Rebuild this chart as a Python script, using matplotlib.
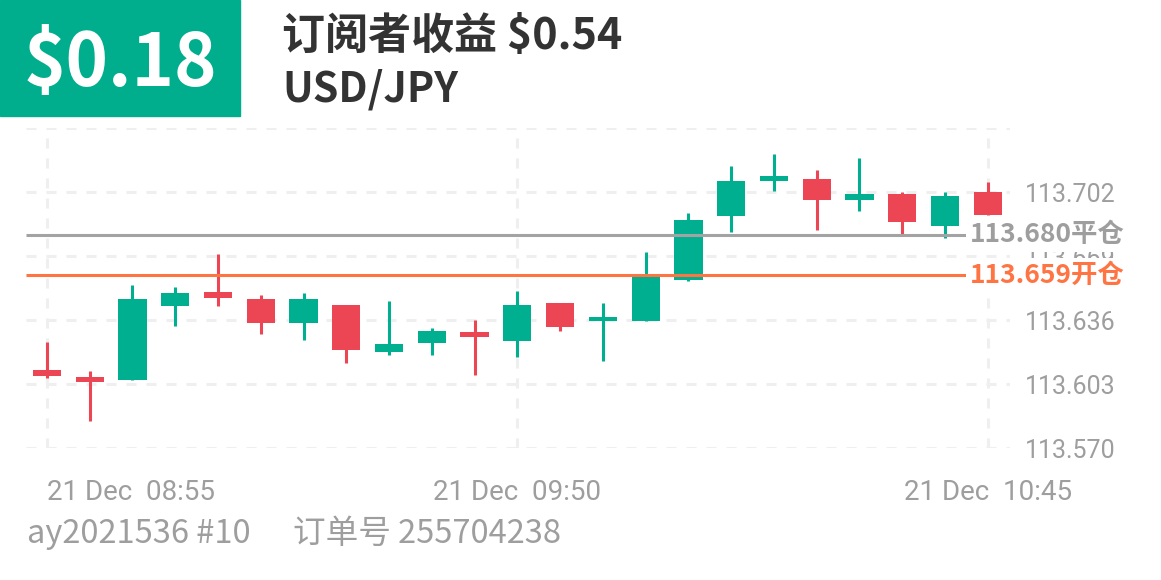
import matplotlib
matplotlib.use("Agg")
import matplotlib.pyplot as plt
import matplotlib.transforms as mtransforms
from matplotlib.patches import Rectangle

plt.rcParams['font.family'] = ['Noto Sans CJK SC', 'DejaVu Sans']
plt.rcParams['lines.scale_dashes'] = False

# 5-minute candles, 21 Dec
times = ["%02d:%02d" % divmod(8 * 60 + 55 + 5 * i, 60) for i in range(23)]
opens = [113.6104, 113.6064, 113.6052, 113.6434, 113.6506, 113.6466, 113.6345, 113.6437,
         113.6193, 113.6241, 113.6296, 113.6253, 113.6446, 113.6353, 113.6353, 113.6564,
         113.6896, 113.7078, 113.7089, 113.6977, 113.7010, 113.6846, 113.7018]
closes = [113.6069, 113.6042, 113.6466, 113.6497, 113.6473, 113.6345, 113.6466, 113.6203,
          113.6234, 113.6305, 113.6272, 113.6435, 113.6322, 113.6373, 113.6594, 113.6877,
          113.7078, 113.7100, 113.6977, 113.7010, 113.6867, 113.6999, 113.6899]
highs = [113.6248, 113.6099, 113.6540, 113.6530, 113.6702, 113.6490, 113.6499, 113.6437,
         113.6460, 113.6319, 113.6358, 113.6508, 113.6446, 113.6448, 113.6709, 113.6912,
         113.7156, 113.7214, 113.7135, 113.7193, 113.7020, 113.7022, 113.7072]
lows = [113.6062, 113.5837, 113.6052, 113.6327, 113.6430, 113.6289, 113.6258, 113.6138,
        113.6177, 113.6177, 113.6078, 113.6167, 113.6301, 113.6150, 113.6353, 113.6559,
        113.6812, 113.7023, 113.6822, 113.6924, 113.6805, 113.6783, 113.6899]

y_ticks = [113.570, 113.603, 113.636, 113.669, 113.702, 113.735]
y_labels = ["113.570", "113.603", "113.636", "113.669", "113.702", ""]
x_tick_idx = [0, 11, 22]
x_labels = ["21 Dec  " + times[i] for i in x_tick_idx]

close_price = 113.680
open_price = 113.659
profit = "$0.18"
subscriber = "订阅者收益 $0.54"
symbol = "USD/JPY"
account = "ay2021536 #10"
order = "订单号 255704238"

GREEN = "#00AF90"
RED = "#EC4655"
GREY = "#9E9E9E"
ORANGE = "#FF7443"
GRID = "#EFEFEF"

W, H = 1161, 580
fig = plt.figure(figsize=(W / 100, H / 100), dpi=100)
ax = fig.add_axes([26 / W, (H - 448) / H, 984 / W, 320 / H])

# grid
for v in y_ticks:
    ax.axhline(v, color=GRID, lw=2.2, dashes=(7.2, 7.2), zorder=0)
for i in x_tick_idx:
    ax.axvline(i, color=GRID, lw=2.2, dashes=(7.2, 7.2), zorder=0)

# candles
for i in range(len(opens)):
    o, c, h, l = opens[i], closes[i], highs[i], lows[i]
    col = GREEN if c >= o else RED
    ax.vlines(i, l, h, color=col, lw=2.2, zorder=2)
    ax.bar(i, abs(c - o), bottom=min(o, c), width=0.66, color=col, zorder=2)

ax.set_xlim(-0.49, 22.52)
ax.set_ylim(113.570, 113.735)

# position lines
line_end = 21.53
ax.hlines(close_price, -0.49, line_end, color="#A3A3A3", lw=2.2, zorder=3)
ax.hlines(open_price, -0.49, line_end, color=ORANGE, lw=2.2, zorder=3)

for s in ax.spines.values():
    s.set_visible(False)

ax.yaxis.tick_right()
ax.set_yticks(y_ticks, y_labels)
ax.tick_params(axis="y", length=0, pad=10.8, labelsize=18, labelcolor=GREY)
for t in ax.get_yticklabels():
    t.set_fontfamily("Roboto")

ax.set_xticks(x_tick_idx, x_labels)
ax.tick_params(axis="x", length=0, pad=22, labelsize=20, labelcolor=GREY)
for k, t in enumerate(ax.get_xticklabels()):
    t.set_fontfamily("Roboto")
    if k == 0:
        t.set_ha("left")

trans = mtransforms.blended_transform_factory(ax.transAxes, ax.transData)
lx = (970 - 26) / 984
ax.text(lx, close_price, f"{close_price:.3f}平仓", transform=trans, ha="left", va="center",
        fontsize=19, fontweight="bold", color=GREY, clip_on=False, zorder=5,
        bbox=dict(facecolor="white", edgecolor="none", pad=3))
ax.text(lx, open_price, f"{open_price:.3f}开仓", transform=trans, ha="left", va="center",
        fontsize=19, fontweight="bold", color=ORANGE, clip_on=False, zorder=5,
        bbox=dict(facecolor="white", edgecolor="none", pad=3))

# header
fig.patches.append(Rectangle((0, 1 - 116 / H), 240 / W, 116 / H, transform=fig.transFigure,
                             color="#00AE8E", zorder=0))
fig.text(120 / W, 1 - 86 / H, profit, ha="center", va="baseline", fontsize=52,
         fontweight="bold", color="white")
fig.text(282 / W, 1 - 49 / H, subscriber, ha="left", va="baseline", fontsize=31,
         fontweight="bold", color="#333333")
fig.text(282 / W, 1 - 101 / H, symbol, ha="left", va="baseline", fontsize=29.5,
         fontweight="bold", color="#333333")

# footer
fig.text(27 / W, 1 - 534 / H, account, ha="left", va="center", fontsize=23.5, color=GREY)
fig.text(293 / W, 1 - 534 / H, order, ha="left", va="center", fontsize=23.5, color=GREY)

fig.savefig("out.png", dpi=100)
